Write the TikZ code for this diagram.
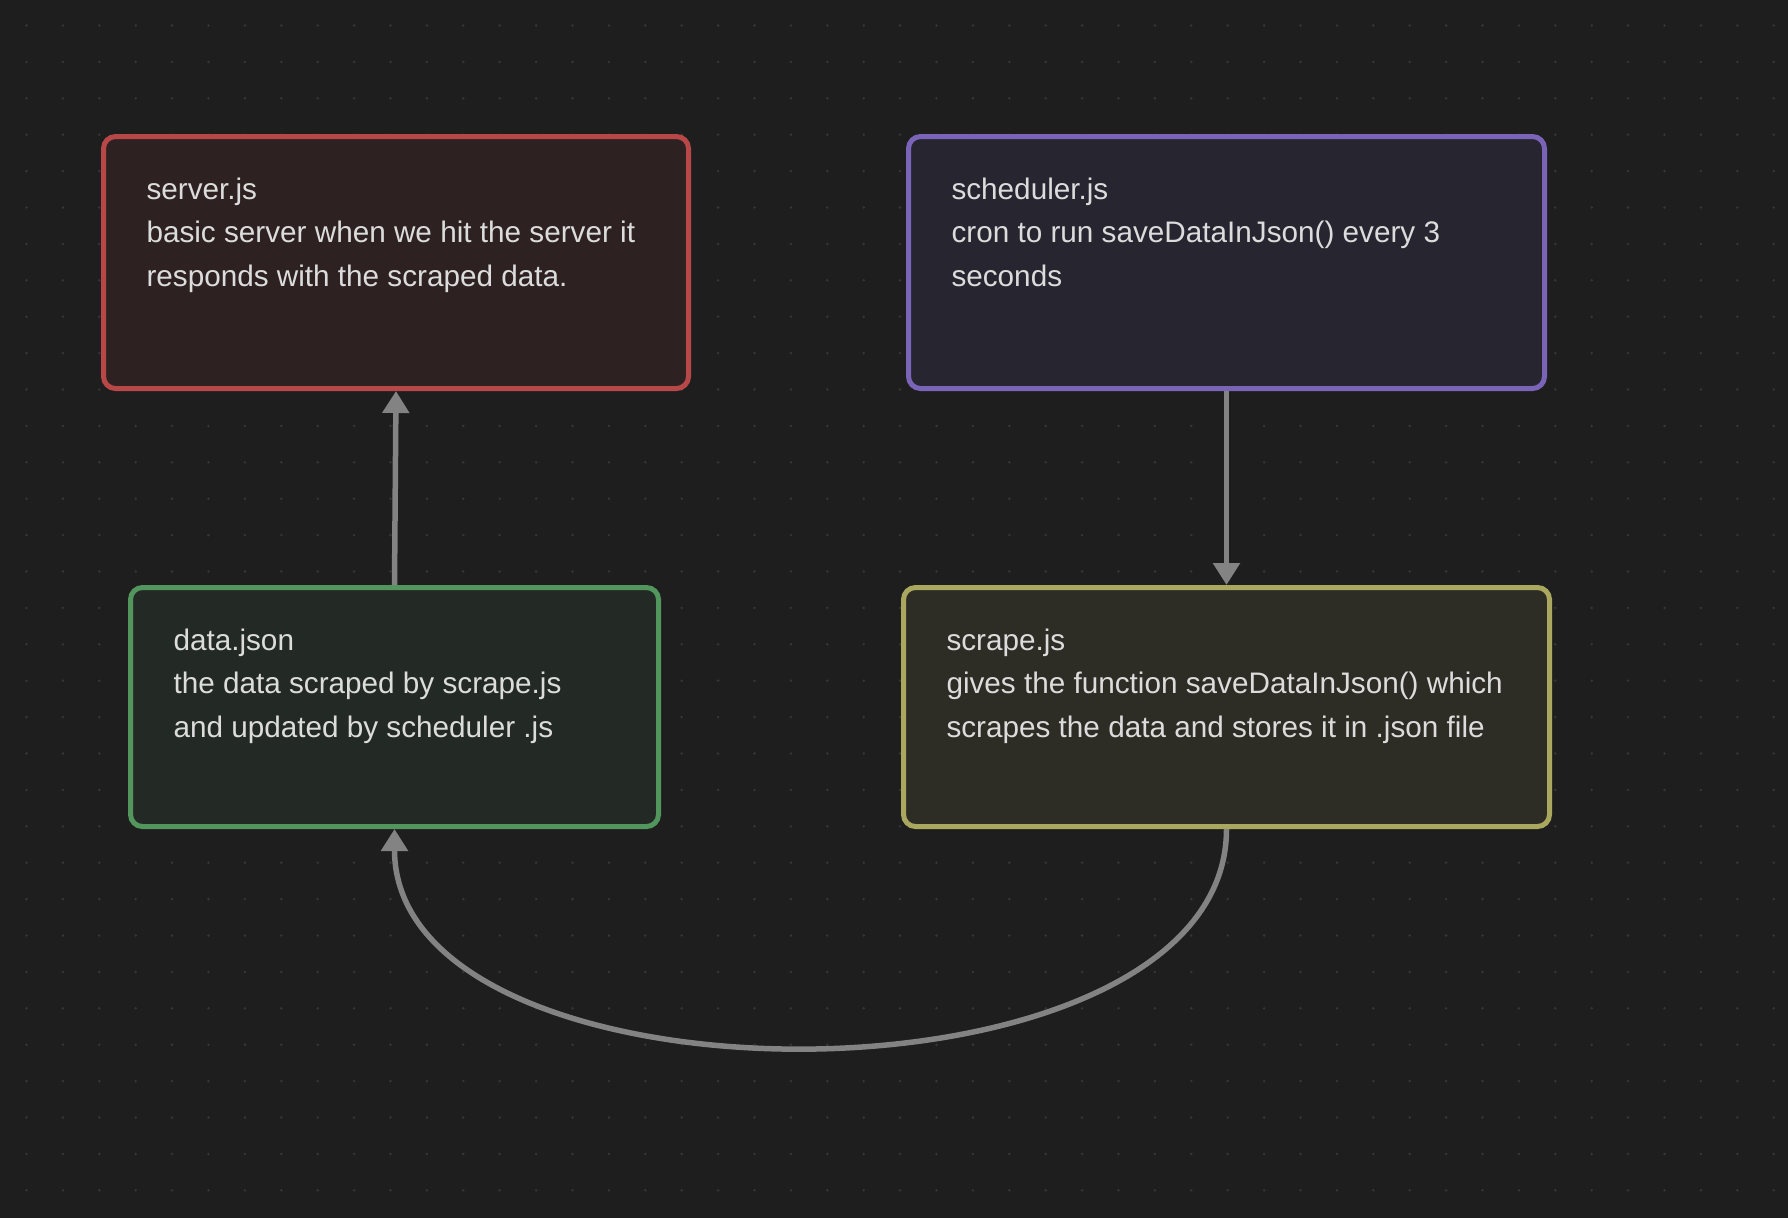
\documentclass[tikz,border=0pt]{standalone}
\usepackage{fontspec}
\setmainfont{Liberation Sans}
\usetikzlibrary{arrows.meta,calc}
\definecolor{bgc}{HTML}{1E1E1E}
\definecolor{dotc}{HTML}{363636}
\definecolor{txtc}{HTML}{DCDCDC}
\definecolor{arrowc}{HTML}{838383}
\definecolor{redb}{HTML}{B84847}
\definecolor{redf}{HTML}{2D2221}
\definecolor{purb}{HTML}{7A64B8}
\definecolor{purf}{HTML}{262530}
\definecolor{grnb}{HTML}{53965D}
\definecolor{grnf}{HTML}{232A25}
\definecolor{yelb}{HTML}{AAA85F}
\definecolor{yelf}{HTML}{2D2D25}
\begin{document}
\begin{tikzpicture}[x=1pt,y=-1pt,
  box/.style={draw, line width=5pt, rounded corners=12pt, inner sep=0pt, outer sep=2.5pt},
  txt/.style={text=txtc, inner sep=0pt, outer sep=0pt, anchor=base west},
  conn/.style={draw=arrowc, line width=5.5pt, -{Triangle[length=22pt,width=26pt]}}
]
\useasboundingbox (0,0) rectangle (1788,1218);
\fill[bgc] (0,0) rectangle (1788,1218);
\foreach \i in {0,...,48}{
  \foreach \j in {0,...,32}{
    \fill[dotc] (26.5+36.4*\i, 25.5+36.4*\j) circle (1.4pt);
  }
}
\node[box, draw=redb, fill=redf, minimum width=585pt, minimum height=252pt] (server) at (396,262.5) {};
\node[box, draw=purb, fill=purf, minimum width=636pt, minimum height=252pt] (scheduler) at (1226.5,262.5) {};
\node[box, draw=grnb, fill=grnf, minimum width=528pt, minimum height=239pt] (data) at (394.5,707) {};
\node[box, draw=yelb, fill=yelf, minimum width=646pt, minimum height=239pt] (scrape) at (1226.5,707) {};

\node[txt] (servertxt) at ($(server.north west)+(45.5,65)$) {\parbox[t]{620pt}{\fontsize{29.7pt}{43.6pt}\selectfont server.js\\basic server when we hit the server it\\responds with the scraped data.}};
\node[txt] (schedulertxt) at ($(scheduler.north west)+(45.5,65)$) {\parbox[t]{620pt}{\fontsize{29.7pt}{43.6pt}\selectfont scheduler.js\\cron to run saveDataInJson() every 3\\seconds}};
\node[txt] (datatxt) at ($(data.north west)+(45.5,65)$) {\parbox[t]{620pt}{\fontsize{29.7pt}{43.6pt}\selectfont data.json\\the data scraped by scrape.js\\and updated by scheduler .js}};
\node[txt] (scrapetxt) at ($(scrape.north west)+(45.5,65)$) {\parbox[t]{620pt}{\fontsize{29.7pt}{43.6pt}\selectfont scrape.js\\gives the function saveDataInJson() which\\scrapes the data and stores it in .json file}};

\draw[conn] (data.north) -- (server.south);
\draw[conn] (scheduler.south) -- (scrape.north);
\draw[conn] (scrape.south) .. controls +(0,290) and +(0,290) .. (data.south);
\end{tikzpicture}
\end{document}
